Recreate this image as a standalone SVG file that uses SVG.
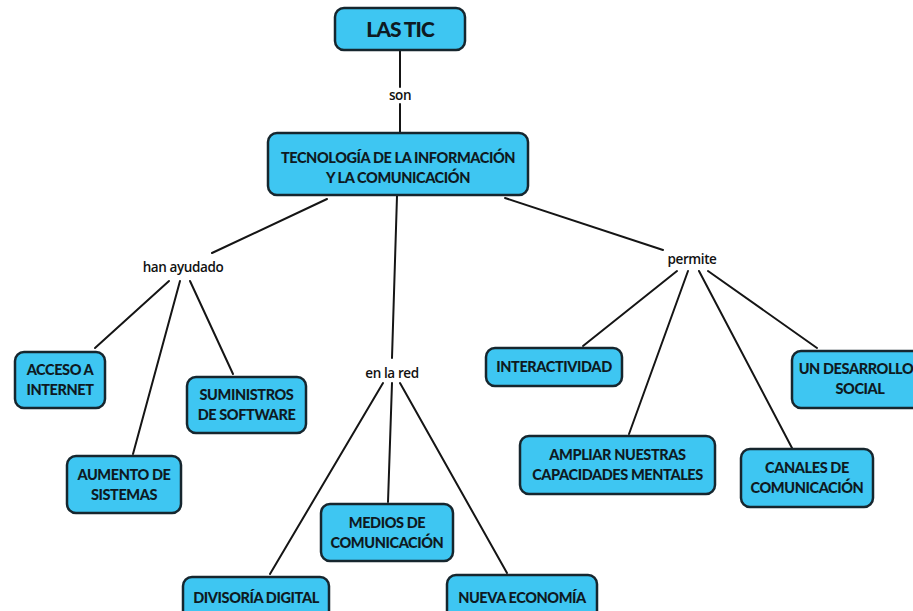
<svg xmlns="http://www.w3.org/2000/svg" width="913" height="611" viewBox="0 0 913 611">
<style>
.box{fill:#3ec6f2;stroke:#16262e;stroke-width:2.5}
.t{font-family:Lato,"Open Sans",sans-serif;font-weight:900;font-size:14.5px;fill:#0e1a22;text-anchor:middle;letter-spacing:-0.4px}
.lbl{font-family:"Open Sans",Lato,sans-serif;font-weight:600;font-size:13.5px;fill:#111;text-anchor:middle;letter-spacing:-0.4px}
.c line{stroke:#151515;stroke-width:2;stroke-linecap:round}
</style>
<rect width="913" height="611" fill="#ffffff"/>
<g class="c" id="connectors">
<line x1="400" y1="50" x2="400" y2="87"/>
<line x1="400" y1="104" x2="400" y2="133"/>
<line x1="327" y1="199" x2="212" y2="253"/>
<line x1="169" y1="281" x2="95" y2="348"/>
<line x1="180" y1="281" x2="133" y2="454"/>
<line x1="190" y1="281" x2="233" y2="374"/>
<line x1="397" y1="196" x2="392" y2="358"/>
<line x1="383" y1="383" x2="270" y2="574"/>
<line x1="392" y1="383" x2="388" y2="502"/>
<line x1="400" y1="383" x2="507" y2="573"/>
<line x1="505" y1="198" x2="663" y2="250"/>
<line x1="677" y1="271" x2="583" y2="346"/>
<line x1="688" y1="271" x2="629" y2="434"/>
<line x1="699" y1="271" x2="792" y2="448"/>
<line x1="708" y1="271" x2="817" y2="348"/>
</g>
<g id="lbl-son"><text class="lbl" x="400" y="100">son</text></g>
<g id="lbl-han"><text class="lbl" x="183" y="272">han ayudado</text></g>
<g id="lbl-red"><text class="lbl" x="392" y="378">en la red</text></g>
<g id="lbl-permite"><text class="lbl" x="692" y="264">permite</text></g>
<g id="n-lastic"><rect class="box" x="335" y="8" width="130" height="42" rx="9"/><text class="t" x="400" y="37" style="font-size:21px;letter-spacing:-1px">LAS TIC</text></g>
<g id="n-tic"><rect class="box" x="268" y="133" width="260" height="62" rx="9"/><text class="t" x="398" y="163">TECNOLOGÍA DE LA INFORMACIÓN</text><text class="t" x="398" y="183">Y LA COMUNICACIÓN</text></g>
<g id="n-acceso"><rect class="box" x="15" y="352" width="90" height="56" rx="9"/><text class="t" x="60" y="375">ACCESO A</text><text class="t" x="60" y="395">INTERNET</text></g>
<g id="n-suministros"><rect class="box" x="187" y="377" width="119" height="56" rx="9"/><text class="t" x="246.5" y="400">SUMINISTROS</text><text class="t" x="246.5" y="420">DE SOFTWARE</text></g>
<g id="n-aumento"><rect class="box" x="67" y="456" width="114" height="57" rx="9"/><text class="t" x="124" y="480">AUMENTO DE</text><text class="t" x="124" y="500">SISTEMAS</text></g>
<g id="n-interactividad"><rect class="box" x="486" y="348" width="136" height="38" rx="9"/><text class="t" x="554" y="372">INTERACTIVIDAD</text></g>
<g id="n-desarrollo"><rect class="box" x="792" y="351" width="136" height="57" rx="9"/><text class="t" x="856" y="374">UN DESARROLLO</text><text class="t" x="860" y="394">SOCIAL</text></g>
<g id="n-ampliar"><rect class="box" x="520" y="436" width="195" height="58" rx="9"/><text class="t" x="617.5" y="460">AMPLIAR NUESTRAS</text><text class="t" x="617.5" y="480">CAPACIDADES MENTALES</text></g>
<g id="n-canales"><rect class="box" x="741" y="449" width="132" height="58" rx="9"/><text class="t" x="807" y="473">CANALES DE</text><text class="t" x="807" y="493">COMUNICACIÓN</text></g>
<g id="n-medios"><rect class="box" x="321" y="504" width="132" height="57" rx="9"/><text class="t" x="387" y="528">MEDIOS DE</text><text class="t" x="387" y="548">COMUNICACIÓN</text></g>
<g id="n-divisoria"><rect class="box" x="183" y="577" width="146" height="45" rx="9"/><text class="t" x="256" y="603">DIVISORÍA DIGITAL</text></g>
<g id="n-nueva"><rect class="box" x="447" y="575" width="150" height="45" rx="9"/><text class="t" x="522" y="603">NUEVA ECONOMÍA</text></g>
</svg>
